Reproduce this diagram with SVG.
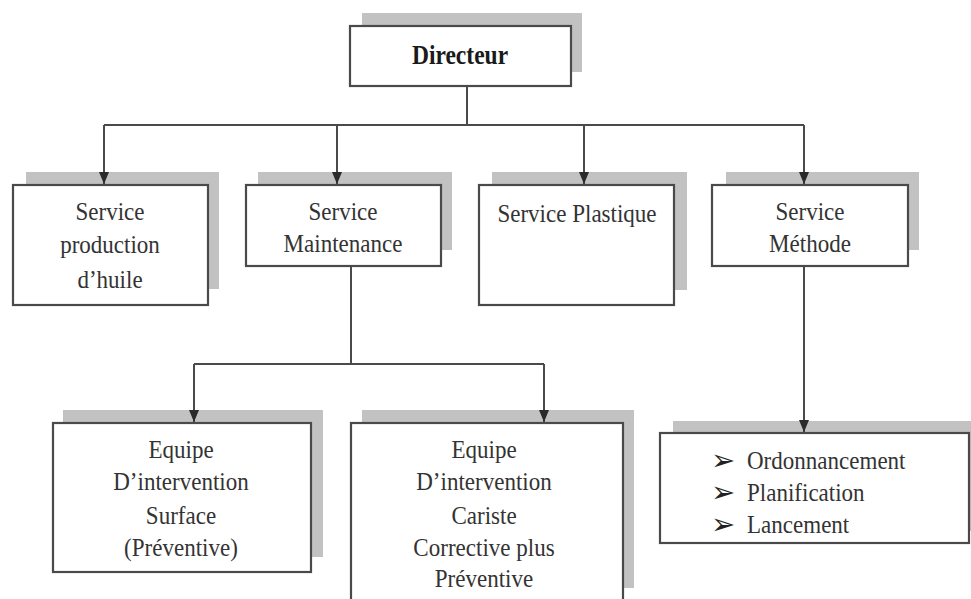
<svg xmlns="http://www.w3.org/2000/svg" width="971" height="599" viewBox="0 0 971 599">
  <defs>
    <!-- downward arrowhead; drawn along the path direction -->
    <marker id="arrow" markerWidth="12" markerHeight="10" refX="12" refY="5" orient="auto" markerUnits="userSpaceOnUse" viewBox="0 0 12 10">
      <path d="M0,0 L12,5 L0,10 Z" fill="#2a2a2a"/>
    </marker>
  </defs>
  <style>
    .shadow { fill: #c2c2c2; }
    .box { fill: #ffffff; stroke: #4a4a4a; stroke-width: 2.2; }
    .lbl { font-family: "Liberation Serif", "Times New Roman", serif; font-size: 24.5px; fill: #333333; text-anchor: middle; }
    .bold { font-weight: bold; font-size: 28px; fill: #1a1a1a; }
    .list { text-anchor: start; }
    .bullet { font-family: "DejaVu Sans", sans-serif; font-size: 29px; font-weight: bold; fill: #222222; }
    .link { fill: none; stroke: #4a4a4a; stroke-width: 2; }
  </style>
  <rect width="971" height="599" fill="#ffffff"/>

  <g id="directeur">
    <rect class="shadow" x="362" y="13" width="220" height="59"/>
    <rect class="box" x="350" y="26" width="221" height="60"/>
    <g transform="translate(460 0) scale(0.84 1)">
      <text class="lbl bold" x="0" y="64">Directeur</text>
    </g>
  </g>

  <g id="service-production">
    <rect class="shadow" x="26" y="172" width="193" height="117"/>
    <rect class="box" x="13" y="185" width="195" height="120"/>
    <g transform="translate(110 0) scale(0.94 1)">
      <text class="lbl" x="0" y="220">Service</text>
      <text class="lbl" x="0" y="253">production</text>
      <text class="lbl" x="0" y="288">d’huile</text>
    </g>
  </g>

  <g id="service-maintenance">
    <rect class="shadow" x="258" y="172" width="194" height="78"/>
    <rect class="box" x="246" y="185" width="195" height="81"/>
    <g transform="translate(343 0) scale(0.94 1)">
      <text class="lbl" x="0" y="220">Service</text>
      <text class="lbl" x="0" y="252">Maintenance</text>
    </g>
  </g>

  <g id="service-plastique">
    <rect class="shadow" x="492" y="172" width="195" height="118"/>
    <rect class="box" x="479" y="185" width="195" height="120"/>
    <g transform="translate(577 0) scale(0.94 1)">
      <text class="lbl" x="0" y="222">Service Plastique</text>
    </g>
  </g>

  <g id="service-methode">
    <rect class="shadow" x="726" y="172" width="193" height="78"/>
    <rect class="box" x="712" y="185" width="196" height="81"/>
    <g transform="translate(810 0) scale(0.94 1)">
      <text class="lbl" x="0" y="220">Service</text>
      <text class="lbl" x="0" y="252">Méthode</text>
    </g>
  </g>

  <g id="equipe-surface">
    <rect class="shadow" x="63" y="410" width="260" height="147"/>
    <rect class="box" x="53" y="423" width="258" height="149"/>
    <g transform="translate(181 0) scale(0.94 1)">
      <text class="lbl" x="0" y="458">Equipe</text>
      <text class="lbl" x="0" y="490">D’intervention</text>
      <text class="lbl" x="0" y="524">Surface</text>
      <text class="lbl" x="0" y="556">(Préventive)</text>
    </g>
  </g>

  <g id="equipe-cariste">
    <rect class="shadow" x="362" y="410" width="272" height="178"/>
    <rect class="box" x="351" y="423" width="272" height="190"/>
    <g transform="translate(484 0) scale(0.94 1)">
      <text class="lbl" x="0" y="458">Equipe</text>
      <text class="lbl" x="0" y="490">D’intervention</text>
      <text class="lbl" x="0" y="524">Cariste</text>
      <text class="lbl" x="0" y="556">Corrective plus</text>
      <text class="lbl" x="0" y="587">Préventive</text>
    </g>
  </g>

  <g id="methode-taches">
    <rect class="shadow" x="673" y="421" width="300" height="110"/>
    <rect class="box" x="660" y="433" width="309" height="110"/>
    <text class="bullet" x="711" y="470">➢</text>
    <text class="bullet" x="711" y="502">➢</text>
    <text class="bullet" x="711" y="534">➢</text>
    <g transform="translate(747 0) scale(0.94 1)">
      <text class="lbl list" x="0" y="469">Ordonnancement</text>
      <text class="lbl list" x="0" y="501">Planification</text>
      <text class="lbl list" x="0" y="533">Lancement</text>
    </g>
  </g>

  <!-- connectors, drawn over the shadows -->
  <g id="connectors">
    <path class="link" d="M467,86 V125"/>
    <path class="link" d="M104,125 H804"/>
    <path class="link" d="M104,125 V184" marker-end="url(#arrow)"/>
    <path class="link" d="M337,125 V184" marker-end="url(#arrow)"/>
    <path class="link" d="M584,125 V184" marker-end="url(#arrow)"/>
    <path class="link" d="M804,125 V184" marker-end="url(#arrow)"/>
    <path class="link" d="M351,266 V364"/>
    <path class="link" d="M194,364 H544"/>
    <path class="link" d="M194,364 V422" marker-end="url(#arrow)"/>
    <path class="link" d="M544,364 V422" marker-end="url(#arrow)"/>
    <path class="link" d="M804,266 V432" marker-end="url(#arrow)"/>
  </g>
</svg>
